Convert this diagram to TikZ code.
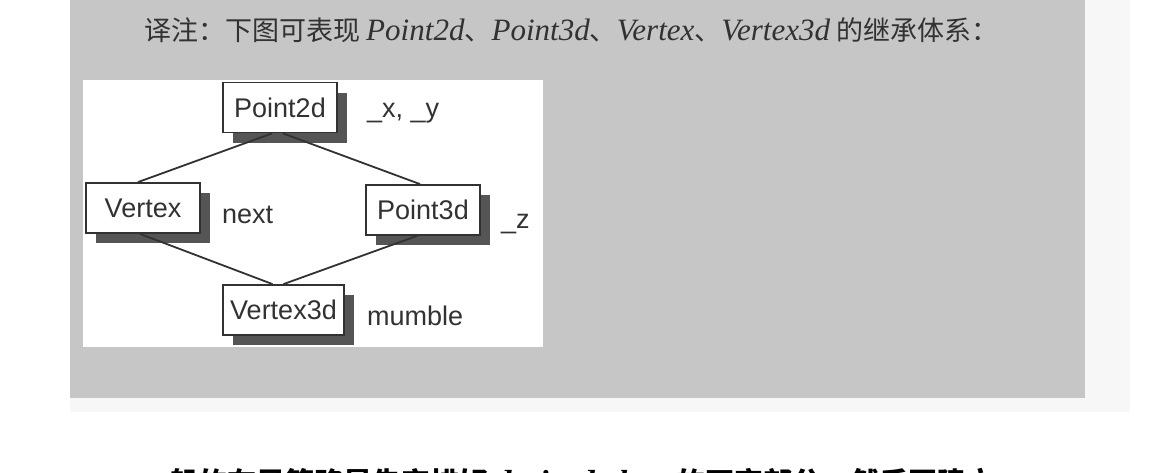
\documentclass[tikz,border=0pt]{standalone}
\usepackage{fontspec}
\setmainfont{Liberation Sans}
\newfontfamily\cjk{Noto Sans CJK SC}
\newfontfamily\tms[Scale=1.15]{Liberation Serif}
\usetikzlibrary{shadows}
\definecolor{ink}{RGB}{50,50,50}
\definecolor{panelgray}{RGB}{198,198,198}
\definecolor{shade}{RGB}{85,85,85}
\definecolor{paper}{RGB}{247,247,247}
\begin{document}
\begin{tikzpicture}[x=1pt, y=-1pt,
    classbox/.style={draw=ink, line width=1.8pt, fill=white, text=ink,
        minimum width=114pt, minimum height=50pt, inner xsep=7pt,
        font=\fontsize{27}{30}\selectfont,
        drop shadow={shadow xshift=10pt, shadow yshift=-10pt, fill=shade, opacity=1}},
    member/.style={anchor=base west, inner sep=0pt, text=ink,
        font=\fontsize{27}{30}\selectfont},
    link/.style={draw=ink, line width=1.8pt}]

    \useasboundingbox (0,0) rectangle (1168,472);

    % Background
    \fill[paper] (70,0) rectangle (1130,412);
    \fill[panelgray] (70,0) rectangle (1085,398);
    \fill[white] (83,80) rectangle (543,347);

    % Caption
    \node[anchor=base west, inner sep=0pt, text=ink, font=\fontsize{27}{30}\selectfont]
        (caption) at (144,40) {\cjk 译注：下图可表现 {\tms\itshape Point2d}、{\tms\itshape Point3d}、{\tms\itshape Vertex}、{\tms\itshape Vertex3d} 的继承体系：};

    % Classes
    \node[classbox] (p2d) at (280,107.5) {Point2d};
    \node[classbox] (vtx) at (143,208) {Vertex};
    \node[classbox] (p3d) at (423,210) {Point3d};
    \node[classbox] (v3d) at (283.5,310) {Vertex3d};

    % Inheritance
    \draw[link] ([xshift=-8pt]p2d.south) -- ([xshift=-5pt]vtx.north);
    \draw[link] ([xshift=3pt]p2d.south) -- ([xshift=-3pt]p3d.north);
    \draw[link] ([xshift=-3pt]vtx.south) -- ([xshift=-11pt]v3d.north);
    \draw[link] ([xshift=-6pt]p3d.south) -- (v3d.north);

    % Members
    \node[member] (p2dm) at (367,117) {\_x, \_y};
    \node[member] (vtxm) at (222,223) {next};
    \node[member] (p3dm) at (501,228) {\_z};
    \node[member] (v3dm) at (367,325) {mumble};

    % Next line of text, cut by the page edge
    \node[anchor=base west, inner sep=0pt, font=\fontsize{29}{32}\selectfont\bfseries]
        (body) at (140,493) {\cjk 一般的布局策略是先安排好 {\tms\itshape derived class} 的不变部分，然后再建立};

\end{tikzpicture}
\end{document}
